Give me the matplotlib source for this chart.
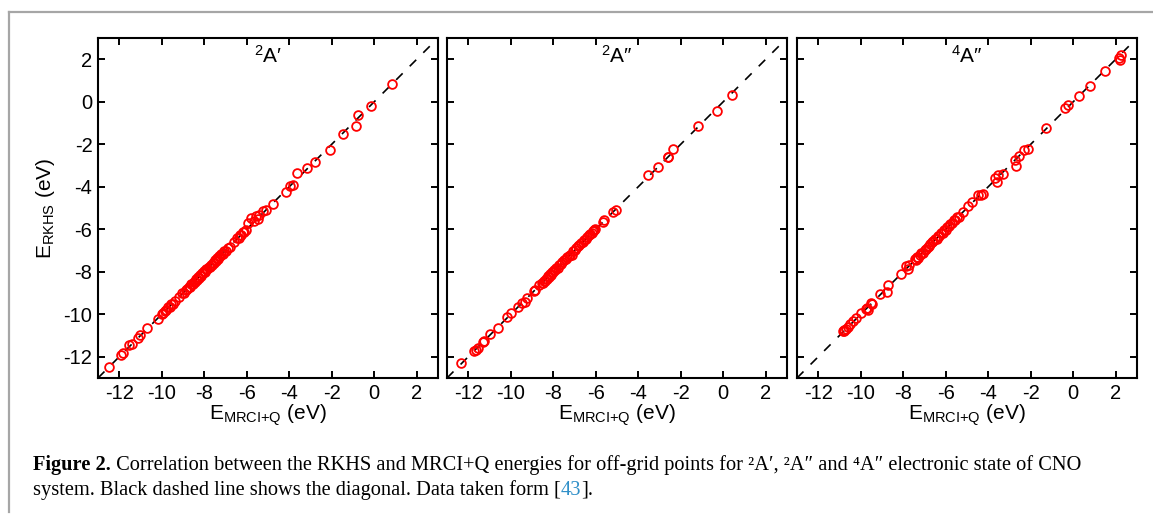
import matplotlib
matplotlib.use("Agg")
import matplotlib.pyplot as plt
from matplotlib.lines import Line2D

plt.rcParams['font.family'] = ['Liberation Sans', 'DejaVu Sans']
plt.rcParams['mathtext.fontset'] = 'custom'
plt.rcParams['mathtext.rm'] = 'Liberation Sans'
plt.rcParams['mathtext.it'] = 'Liberation Sans:italic'
plt.rcParams['mathtext.bf'] = 'Liberation Sans:bold'

# ---- data: (E_MRCI+Q, E_RKHS) pairs in eV for the three states ----
x_2Ap = [-12.47, -11.92, -11.82, -11.52, -11.40, -11.12, -11.02, -10.70, -10.20,
         -10.00, -9.92, -9.85, -9.78, -9.70, -9.62, -9.55, -9.47, -9.40, -9.20,
         -9.05, -8.95, -8.88, -8.80, -8.74, -8.68, -8.62, -8.55, -8.50, -8.45,
         -8.40, -8.35, -8.30, -8.25, -8.20, -8.15, -8.10, -8.05, -8.00, -7.95,
         -7.90, -7.85, -7.80, -7.75, -7.70, -7.65, -7.60, -7.55, -7.50, -7.45,
         -7.40, -7.35, -7.30, -7.25, -7.20, -7.12, -7.05, -6.98, -6.90, -6.80,
         -6.62, -6.45, -6.38, -6.32, -6.25, -6.18, -6.12, -6.05, -5.96, -5.80,
         -5.65, -5.57, -5.49, -5.42, -5.25, -5.09, -4.78, -4.15, -3.95, -3.82,
         -3.65, -3.16, -2.80, -2.07, -1.47, -0.85, -0.78, -0.13, 0.83]
y_2Ap = [-12.47, -11.92, -11.80, -11.45, -11.38, -11.13, -10.98, -10.66, -10.22,
         -9.97, -9.95, -9.84, -9.80, -9.66, -9.65, -9.52, -9.50, -9.38, -9.17,
         -9.02, -8.98, -8.85, -8.83, -8.70, -8.72, -8.58, -8.59, -8.46, -8.49,
         -8.36, -8.39, -8.27, -8.28, -8.16, -8.19, -8.06, -8.08, -7.97, -7.99,
         -7.86, -7.89, -7.77, -7.79, -7.66, -7.69, -7.57, -7.58, -7.46, -7.49,
         -7.37, -7.38, -7.27, -7.28, -7.16, -7.15, -7.03, -7.01, -6.88, -6.82,
         -6.60, -6.42, -6.40, -6.29, -6.27, -6.15, -6.14, -6.02, -5.70, -5.45,
         -5.63, -5.39, -5.51, -5.31, -5.16, -5.08, -4.80, -4.26, -3.97, -3.93,
         -3.36, -3.14, -2.83, -2.28, -1.50, -1.14, -0.64, -0.19, 0.82]

x_2App = [-12.35, -11.75, -11.64, -11.53, -11.32, -11.28, -10.96, -10.60, -10.17,
          -10.00, -9.67, -9.46, -9.35, -9.24, -8.92, -8.88, -8.67, -8.55, -8.50,
          -8.45, -8.40, -8.35, -8.30, -8.25, -8.20, -8.15, -8.10, -8.05, -8.00,
          -7.95, -7.90, -7.85, -7.80, -7.72, -7.65, -7.58, -7.50, -7.42, -7.35,
          -7.28, -7.20, -7.14, -7.08, -7.00, -6.92, -6.85, -6.78, -6.70, -6.62,
          -6.55, -6.48, -6.40, -6.33, -6.26, -6.20, -6.14, -6.08, -6.02, -5.65,
          -5.60, -5.20, -5.06, -3.55, -3.05, -2.62, -2.58, -2.37, -1.19, -0.29, 0.41]
y_2App = [-12.31, -11.73, -11.68, -11.60, -11.30, -11.25, -10.92, -10.63, -10.15,
          -9.95, -9.67, -9.48, -9.40, -9.24, -8.90, -8.88, -8.61, -8.52, -8.54,
          -8.42, -8.44, -8.32, -8.33, -8.22, -8.24, -8.12, -8.14, -8.02, -8.03,
          -7.92, -7.94, -7.82, -7.84, -7.70, -7.62, -7.56, -7.47, -7.40, -7.32,
          -7.25, -7.22, -7.20, -7.04, -6.97, -6.89, -6.81, -6.75, -6.66, -6.58,
          -6.51, -6.44, -6.36, -6.29, -6.22, -6.16, -6.10, -6.04, -5.98, -5.65,
          -5.58, -5.20, -5.08, -3.46, -3.05, -2.62, -2.58, -2.20, -1.14, -0.44, 0.32]

x_4App = [-10.85, -10.80, -10.77, -10.70, -10.60, -10.49, -10.38, -10.22, -9.98,
          -9.77, -9.70, -9.65, -9.50, -9.46, -9.10, -8.78, -8.70, -8.12, -7.85,
          -7.80, -7.75, -7.46, -7.40, -7.35, -7.30, -7.22, -7.15, -7.08, -7.00,
          -6.92, -6.85, -6.78, -6.72, -6.65, -6.58, -6.50, -6.43, -6.36, -6.30,
          -6.22, -6.15, -6.08, -6.00, -5.92, -5.85, -5.78, -5.70, -5.62, -5.55,
          -5.48, -5.40, -5.17, -4.94, -4.78, -4.46, -4.35, -4.25, -3.68, -3.52,
          -3.57, -3.31, -2.73, -2.57, -2.70, -2.34, -2.11, -1.30, -0.37, -0.24,
          0.27, 0.79, 1.48, 2.13, 2.21, 2.24]
y_4App = [-10.81, -10.80, -10.74, -10.68, -10.58, -10.45, -10.34, -10.19, -9.96,
          -9.77, -9.72, -9.80, -9.45, -9.51, -9.05, -8.93, -8.64, -8.10, -7.75,
          -7.85, -7.70, -7.42, -7.45, -7.30, -7.34, -7.20, -7.12, -7.10, -6.96,
          -6.95, -6.82, -6.80, -6.68, -6.62, -6.56, -6.46, -6.45, -6.33, -6.32,
          -6.18, -6.17, -6.05, -6.02, -5.88, -5.87, -5.74, -5.72, -5.58, -5.56,
          -5.44, -5.42, -5.19, -4.92, -4.71, -4.41, -4.37, -4.32, -3.61, -3.46,
          -3.77, -3.42, -2.72, -2.53, -3.03, -2.28, -2.20, -1.22, -0.28, -0.17,
          0.29, 0.74, 1.45, 2.08, 1.95, 2.19]

state_labels = [r'$^{2}$A′', r'$^{2}$A″', r'$^{4}$A″']
series = [(x_2Ap, y_2Ap), (x_2App, y_2App), (x_4App, y_4App)]

axis_lim = (-13, 3)
diag = [-13, 3]
ticks = [-12, -10, -8, -6, -4, -2, 0, 2]
tick_labels = [str(t) for t in ticks]

xlabel = r'$\mathregular{E_{MRCI{+}Q}}$ (eV)'
ylabel = r'$\mathregular{E_{RKHS}}$ (eV)'

caption_bold = 'Figure 2.'
caption_line1 = (' Correlation between the RKHS and MRCI+Q energies for off-grid points for '
                 '²A′, ²A″ and ⁴A″ electronic state of CNO')
caption_line2_a = 'system. Black dashed line shows the diagonal. Data taken form ['
caption_ref = '43'
caption_line2_b = '].'

# ---- figure ----
fig = plt.figure(figsize=(11.53, 5.15), dpi=100)

lefts = [98, 447, 797]
W, H = 1153, 515
ax_w, ax_h = 340, 340
ax_top = 38

for i, (left, (xs, ys), lab) in enumerate(zip(lefts, series, state_labels)):
    ax = fig.add_axes([left / W, 1 - (ax_top + ax_h) / H, ax_w / W, ax_h / H])
    ax.plot(diag, diag, color='black', lw=1.2, dashes=(5.5, 6), zorder=2)
    ax.plot(xs, ys, linestyle='none', marker='o', ms=6.3, mfc='none',
            mec='#ff0000', mew=1.3, zorder=3)
    ax.set_xlim(*axis_lim)
    ax.set_ylim(*axis_lim)
    ax.set_xticks(ticks)
    ax.set_xticklabels(tick_labels)
    ax.set_yticks(ticks)
    if i == 0:
        ax.set_yticklabels(tick_labels)
        ax.set_ylabel(ylabel, fontsize=15, labelpad=5)
    else:
        ax.set_yticklabels([])
    ax.set_xlabel(xlabel, fontsize=15, labelpad=0)
    ax.tick_params(direction='in', top=True, right=True, length=5, width=1.4,
                   labelsize=14.5, pad=4)
    for s in ax.spines.values():
        s.set_linewidth(1.5)
    ax.text(0.5, 0.926, lab, transform=ax.transAxes, ha='center', va='baseline',
            fontsize=15)

# gray frame around the figure panel
frame_kw = dict(color='#a6a6a6', lw=1.6, transform=fig.transFigure)
fig.add_artist(Line2D([9 / W, 1.0], [1 - 12 / H, 1 - 12 / H], **frame_kw))
fig.add_artist(Line2D([9 / W, 9 / W], [1 - 12 / H, 1 - 512 / H], **frame_kw))

# caption, assembled from bold / regular / coloured pieces
serif = ['Liberation Serif', 'DejaVu Serif']
cap_fs = 14.7
head = fig.text(33 / W, 1 - 470 / H, caption_bold, fontsize=cap_fs, family=serif,
                fontweight='bold', ha='left', va='baseline')
fig.axes[0].annotate(caption_line1, xy=(1, 0), xycoords=head, fontsize=cap_fs,
                     family=serif, ha='left', va='bottom', annotation_clip=False)
b = fig.text(33 / W, 1 - 495 / H, caption_line2_a, fontsize=cap_fs, family=serif,
             ha='left', va='baseline')
c = fig.axes[0].annotate(caption_ref, xy=(1, 0), xycoords=b, fontsize=cap_fs,
                         family=serif, color='#2f8fc8', ha='left', va='bottom',
                         annotation_clip=False)
fig.axes[0].annotate(caption_line2_b, xy=(1, 0), xycoords=c, fontsize=cap_fs,
                     family=serif, ha='left', va='bottom', annotation_clip=False)

fig.savefig('out.png', dpi=100)
